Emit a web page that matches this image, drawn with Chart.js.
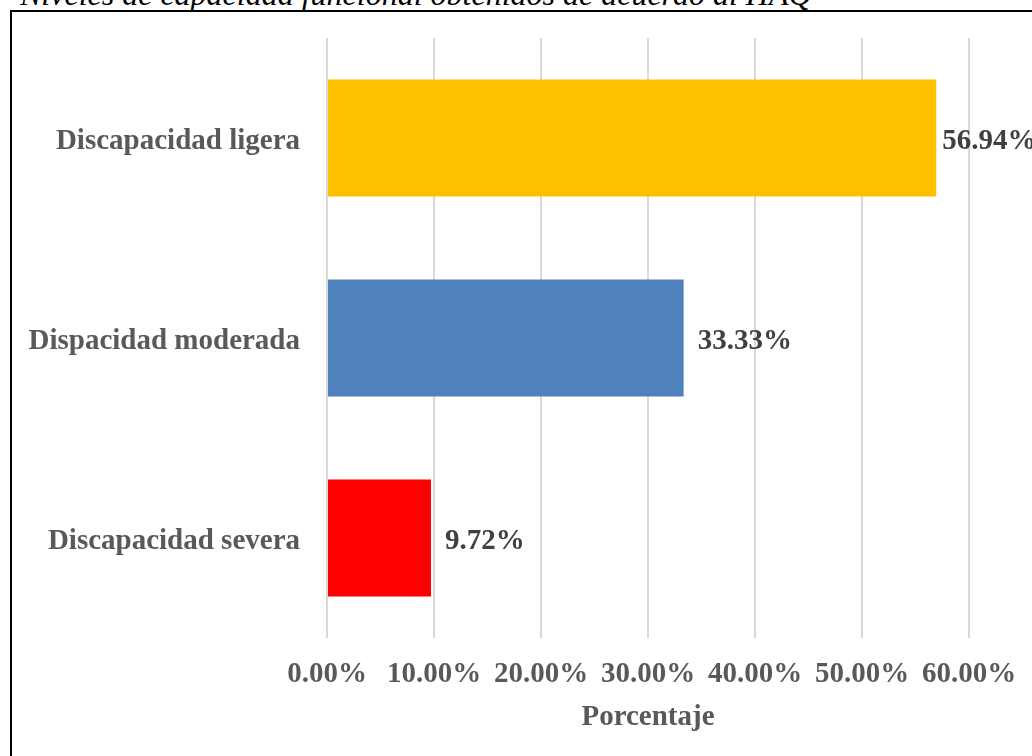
<!DOCTYPE html>
<html>
<head>
<meta charset="utf-8">
<script src="https://cdn.jsdelivr.net/npm/chart.js@4"></script>
<style>
  html, body { margin: 0; padding: 0; width: 1032px; height: 756px; overflow: hidden; background: #fff; }
  #title { position: absolute; left: 20px; top: -22px; font-family: 'Liberation Serif', 'Times New Roman', serif; font-style: italic; font-size: 32px; line-height: 32px; color: #000; white-space: nowrap; }
  #frame { position: absolute; left: 10px; top: 10px; width: 1100px; height: 800px; border: 2px solid #000; box-sizing: border-box; }
  #wrap { position: absolute; left: 0; top: 0; width: 1032px; height: 756px; }
</style>
</head>
<body>
<div id="title">Niveles de capacidad funcional obtenidos de acuerdo al HAQ</div>
<div id="frame"></div>
<div id="wrap"><canvas id="c" width="1032" height="756"></canvas></div>
<script>
const categories = ['Discapacidad ligera', 'Dispacidad moderada', 'Discapacidad severa'];
const values = [56.94, 33.33, 9.72];
const xTickValues = [0, 10, 20, 30, 40, 50, 60];
const xAxisTitle = 'Porcentaje';

const FONT = "'Liberation Serif', 'Times New Roman', serif";
const FS = 29;

const valueLabels = {
  id: 'valueLabels',
  afterDatasetsDraw(chart) {
    const ctx = chart.ctx;
    const meta = chart.getDatasetMeta(0);
    ctx.save();
    ctx.font = 'bold ' + FS + 'px ' + FONT;
    ctx.fillStyle = '#404040';
    ctx.textAlign = 'left';
    ctx.textBaseline = 'middle';
    meta.data.forEach((bar, i) => {
      const v = chart.data.datasets[0].data[i];
      const txt = v.toFixed(2) + '%';
      const w = ctx.measureText(txt).width;
      let x = bar.x + 14;
      if (x + w > chart.width) x = bar.x + 6;
      ctx.fillText(txt, x, bar.y + 4);
    });
    ctx.restore();
  }
};

new Chart(document.getElementById('c'), {
  type: 'bar',
  data: {
    labels: categories,
    datasets: [{
      data: values,
      backgroundColor: ['#FFC000', '#4F81BD', '#FF0000'],
      borderWidth: 0,
      barPercentage: 0.585,
      categoryPercentage: 1.0
    }]
  },
  options: {
    indexAxis: 'y',
    responsive: false,
    animation: false,
    devicePixelRatio: 1,
    layout: { padding: { top: 38, right: 63, left: 0, bottom: 0 } },
    plugins: { legend: { display: false }, tooltip: { enabled: false }, title: { display: false } },
    scales: {
      x: {
        min: 0, max: 60,
        afterBuildTicks(scale) { scale.ticks = xTickValues.map(v => ({ value: v })); },
        afterFit(scale) { scale.height = 118; scale.paddingLeft = 0; scale.paddingRight = 0; },
        grid: { color: '#D9D9D9', lineWidth: 2, drawTicks: false, tickLength: 0 },
        border: { display: false },
        ticks: {
          color: '#595959',
          font: { family: FONT, size: FS, weight: 'bold' },
          padding: 19,
          maxRotation: 0,
          autoSkip: false,
          callback: v => Number(v).toFixed(2) + '%'
        },
        title: {
          display: true,
          text: xAxisTitle,
          color: '#595959',
          font: { family: FONT, size: FS, weight: 'bold' },
          padding: { top: 0, bottom: 21 }
        }
      },
      y: {
        afterFit(scale) { scale.width = 327; scale.paddingTop = 0; scale.paddingBottom = 0; },
        grid: { display: false, drawTicks: false },
        border: { display: false },
        ticks: {
          color: '#595959',
          font: { family: FONT, size: FS, weight: 'bold' },
          padding: 27,
          labelOffset: 4
        }
      }
    }
  },
  plugins: [valueLabels]
});
</script>
</body>
</html>
